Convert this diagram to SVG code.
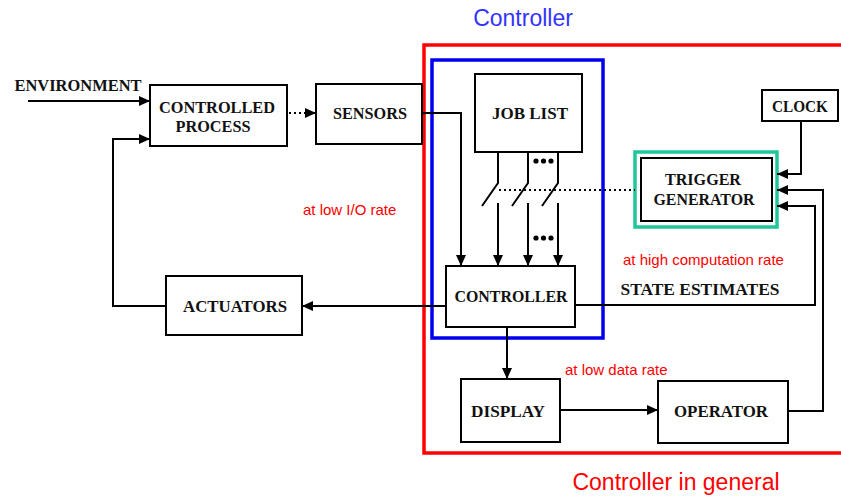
<svg xmlns="http://www.w3.org/2000/svg" width="841" height="496" viewBox="0 0 841 496">
<style>
.box{fill:none;stroke:#000;stroke-width:2}
.lbl{font-family:"Liberation Serif","Times New Roman",serif;font-weight:bold;font-size:16px;fill:#111;text-anchor:middle}
.ln{fill:none;stroke:#000;stroke-width:2}
.dot{fill:none;stroke:#000;stroke-width:2;stroke-dasharray:2 3}
.red{font-family:"Liberation Sans",Arial,sans-serif;font-size:15px;fill:#ff0000}
.big{font-family:"Liberation Sans",Arial,sans-serif;font-size:23px}
</style>
<defs>
<marker id="ah" markerUnits="userSpaceOnUse" markerWidth="12" markerHeight="10" refX="11" refY="5" orient="auto">
<path d="M0,0 L11,5 L0,10 Z" fill="#000"/>
</marker>
</defs>
<rect width="841" height="496" fill="#fff"/>

<g id="frames">
<rect x="424" y="45" width="430" height="408" fill="none" stroke="#ff0000" stroke-width="3.5"/>
<rect x="432" y="60" width="171" height="278" fill="none" stroke="#0000ee" stroke-width="3.5"/>
<text class="big" x="523" y="26" text-anchor="middle" fill="#3333ff">Controller</text>
<text class="big" x="676" y="490" text-anchor="middle" fill="#ff0000">Controller in general</text>
</g>

<g id="environment">
<text class="lbl" x="78" y="91" textLength="127" lengthAdjust="spacingAndGlyphs">ENVIRONMENT</text>
</g>
<g id="controlled-process">
<rect class="box" x="150" y="85" width="137" height="61"/>
<text class="lbl" x="217" y="113" textLength="116" lengthAdjust="spacingAndGlyphs">CONTROLLED</text>
<text class="lbl" x="213" y="132" textLength="75" lengthAdjust="spacingAndGlyphs">PROCESS</text>
</g>
<g id="sensors">
<rect class="box" x="316" y="84" width="106" height="60"/>
<text class="lbl" x="370" y="119" textLength="74" lengthAdjust="spacingAndGlyphs">SENSORS</text>
</g>
<g id="actuators">
<rect class="box" x="166" y="276" width="136" height="59"/>
<text class="lbl" x="235" y="312" textLength="104" lengthAdjust="spacingAndGlyphs">ACTUATORS</text>
</g>
<g id="job-list">
<rect class="box" x="475" y="74" width="107" height="78"/>
<text class="lbl" x="530" y="119" textLength="76" lengthAdjust="spacingAndGlyphs">JOB LIST</text>
</g>
<g id="controller">
<rect class="box" x="446" y="266" width="129" height="61"/>
<text class="lbl" x="511" y="302" textLength="113" lengthAdjust="spacingAndGlyphs">CONTROLLER</text>
</g>
<g id="clock">
<rect class="box" x="762" y="90" width="76" height="31"/>
<text class="lbl" x="800" y="112" textLength="56" lengthAdjust="spacingAndGlyphs">CLOCK</text>
</g>
<g id="trigger-generator">
<rect x="635" y="152" width="142" height="75" fill="none" stroke="#1fc69a" stroke-width="3.5"/>
<rect class="box" x="641" y="158" width="131" height="63"/>
<text class="lbl" x="703" y="185" textLength="76" lengthAdjust="spacingAndGlyphs">TRIGGER</text>
<text class="lbl" x="704" y="205" textLength="101" lengthAdjust="spacingAndGlyphs">GENERATOR</text>
</g>
<g id="display">
<rect class="box" x="461" y="379" width="99" height="63"/>
<text class="lbl" x="508" y="417" textLength="74" lengthAdjust="spacingAndGlyphs">DISPLAY</text>
</g>
<g id="operator">
<rect class="box" x="658" y="381" width="130" height="62"/>
<text class="lbl" x="721" y="417" textLength="94" lengthAdjust="spacingAndGlyphs">OPERATOR</text>
</g>

<g id="connectors">
<path class="ln" d="M28,101 H150" marker-end="url(#ah)"/>
<path class="dot" d="M289,113 H316" marker-end="url(#ah)"/>
<path class="ln" d="M422,113 H461 V266" marker-end="url(#ah)"/>
<path class="ln" d="M498,152 V183 L482,206"/>
<path class="ln" d="M528,152 V183 L512,206"/>
<path class="ln" d="M558,152 V183 L542,206"/>
<path class="ln" d="M498,203 V266" marker-end="url(#ah)"/>
<path class="ln" d="M528,203 V266" marker-end="url(#ah)"/>
<path class="ln" d="M558,203 V266" marker-end="url(#ah)"/>
<path class="dot" d="M499,190 H635"/>
<path class="ln" d="M801,121 V174 H777" marker-end="url(#ah)"/>
<path class="ln" d="M788,411 H823 V190 H777" marker-end="url(#ah)"/>
<path class="ln" d="M575,305 H815 V206 H777" marker-end="url(#ah)"/>
<path class="ln" d="M446,306 H302" marker-end="url(#ah)"/>
<path class="ln" d="M166,306 H113 V139 H150" marker-end="url(#ah)"/>
<path class="ln" d="M507,327 V379" marker-end="url(#ah)"/>
<path class="ln" d="M560,410 H658" marker-end="url(#ah)"/>
<g fill="#000">
<circle cx="536" cy="161" r="2.6"/><circle cx="543.5" cy="161" r="2.6"/><circle cx="551" cy="161" r="2.6"/>
<circle cx="536" cy="238" r="2.6"/><circle cx="543.5" cy="238" r="2.6"/><circle cx="551" cy="238" r="2.6"/>
</g>
</g>

<g id="rate-labels">
<text class="red" x="303" y="215">at low I/O rate</text>
<text class="red" x="623" y="265">at high computation rate</text>
<text class="red" x="565" y="375">at low data rate</text>
<text class="lbl" x="700" y="295" textLength="159" lengthAdjust="spacingAndGlyphs">STATE ESTIMATES</text>
</g>
</svg>
